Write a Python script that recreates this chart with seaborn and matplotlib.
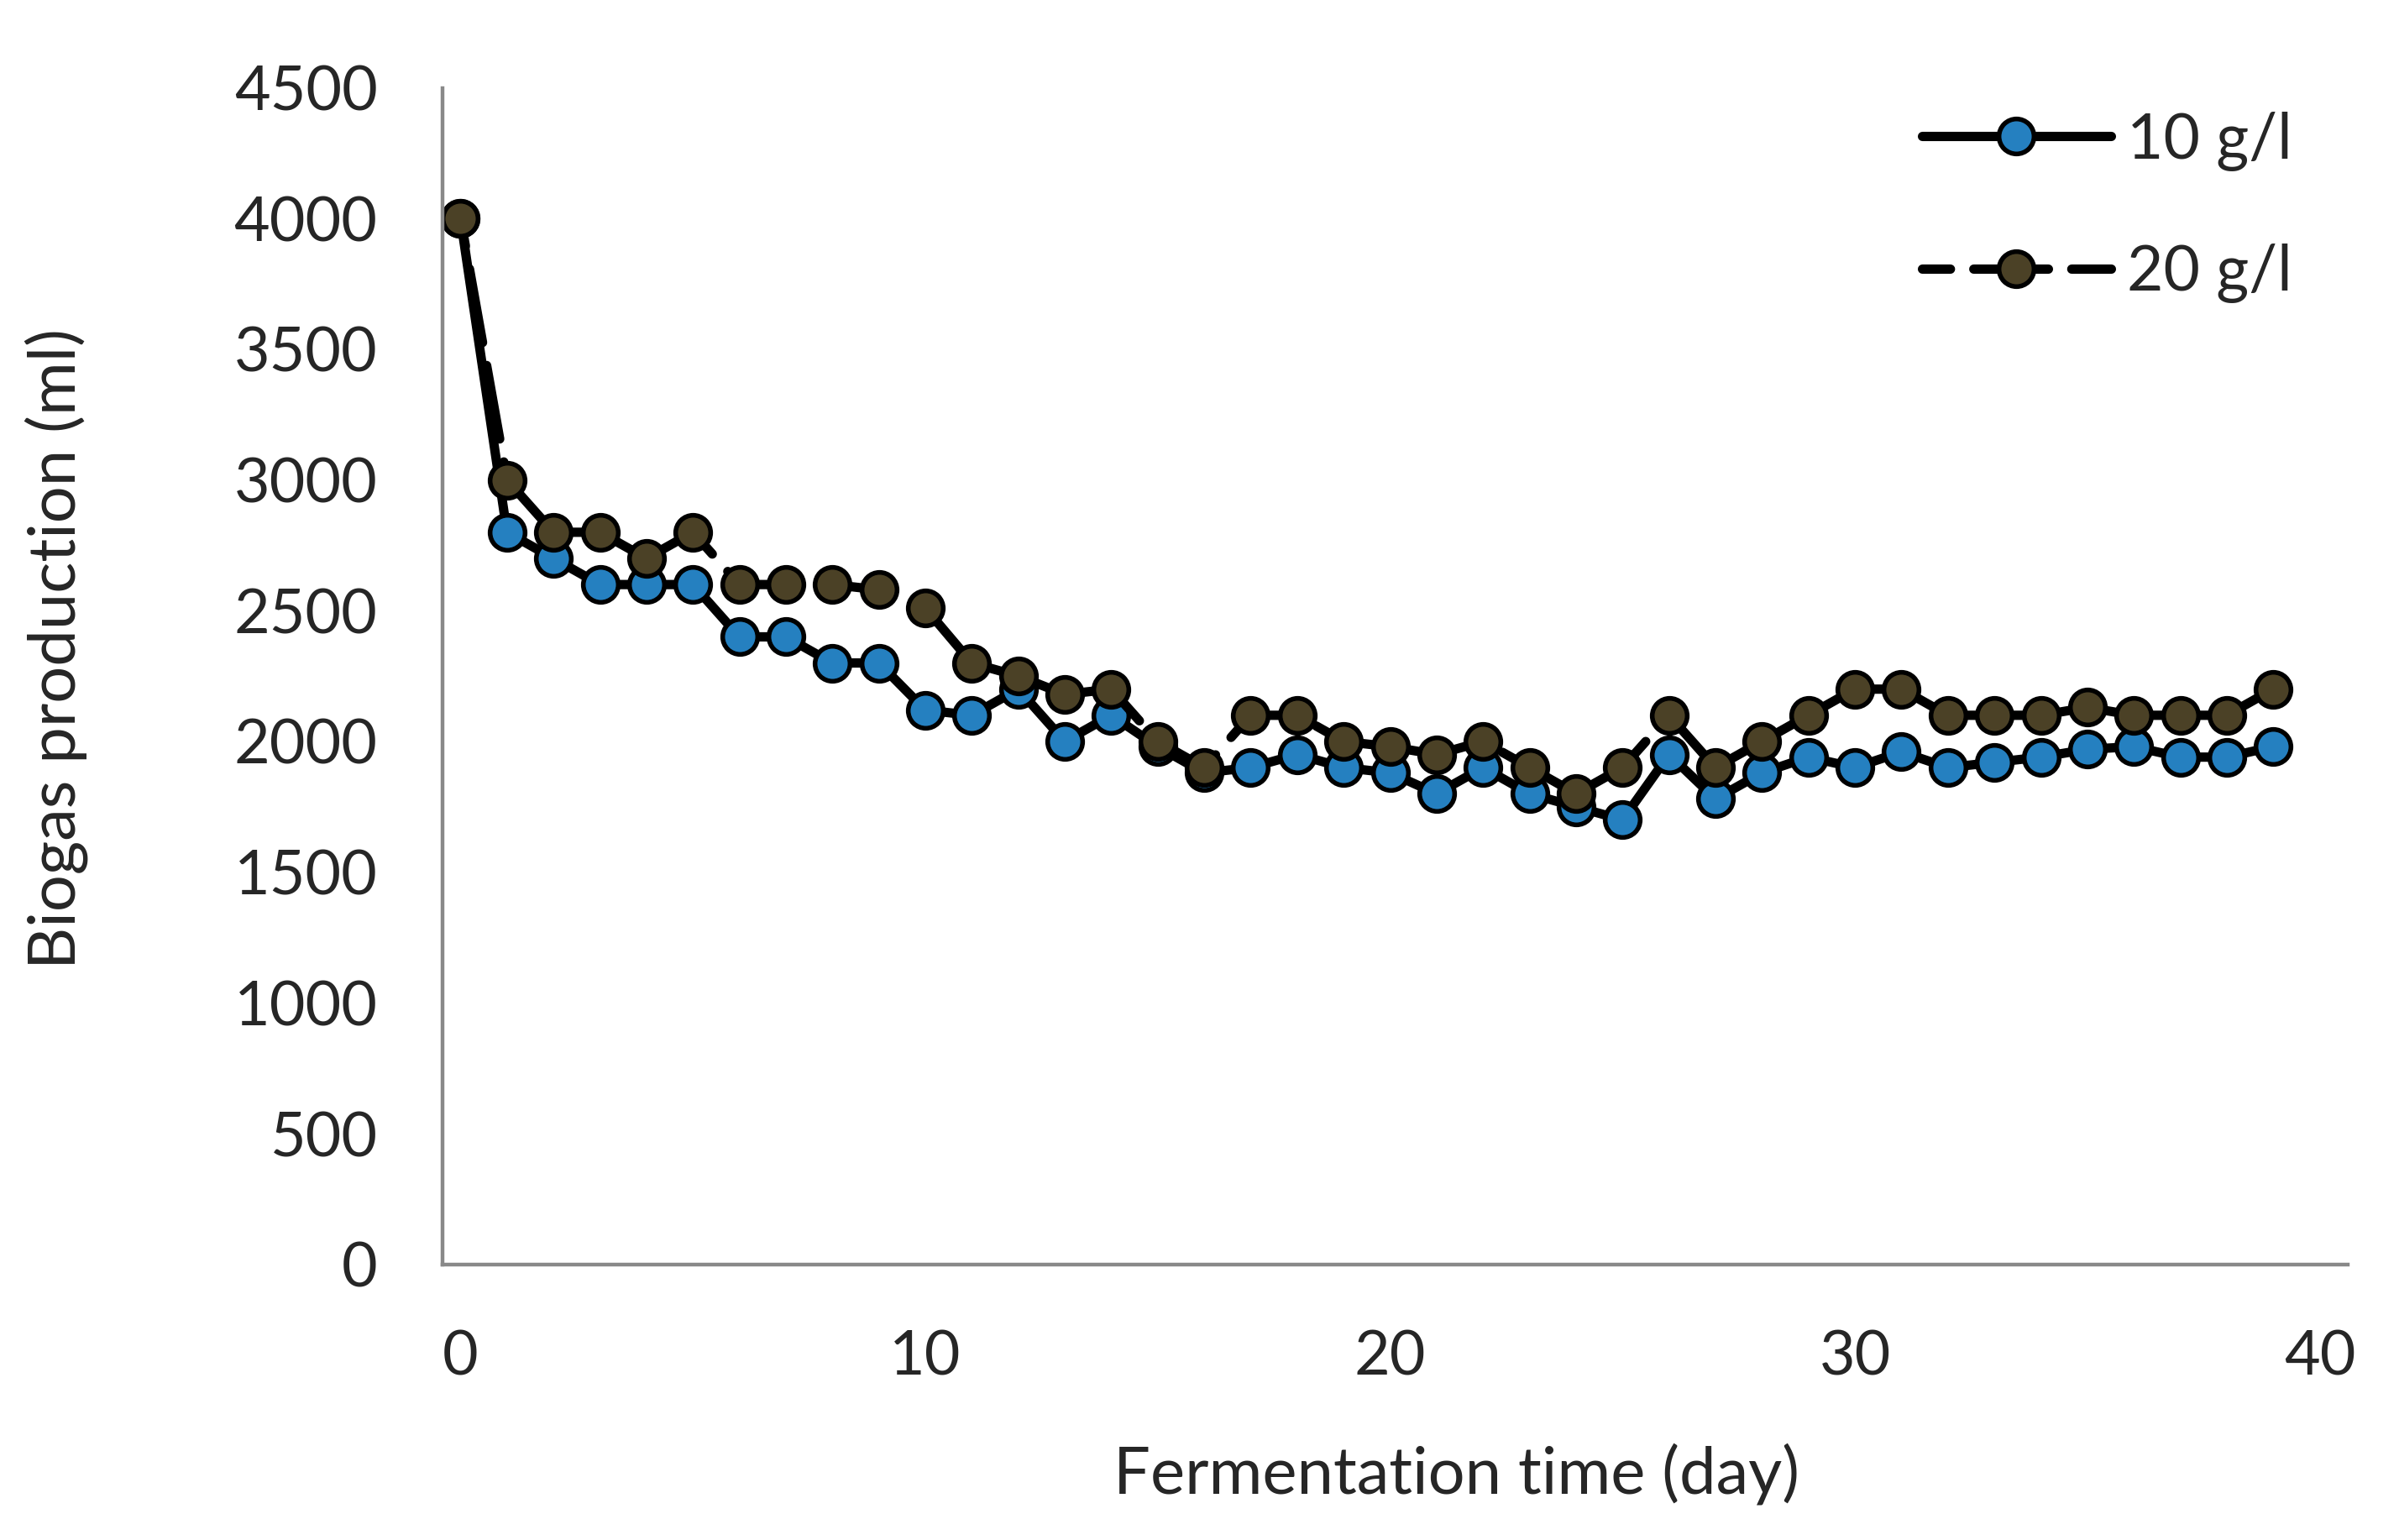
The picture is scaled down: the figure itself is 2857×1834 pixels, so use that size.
import numpy as np
import pandas as pd
import matplotlib
matplotlib.use('Agg')
import matplotlib.pyplot as plt
import seaborn as sns

# ============================================================================
# DATA
# ============================================================================
days = list(range(40))
gas_10 = [4000, 2800, 2700, 2600, 2600, 2600, 2400, 2400, 2300, 2300,
          2120, 2100, 2200, 2000, 2100, 1980, 1880, 1900, 1950, 1900,
          1880, 1800, 1900, 1800, 1750, 1700, 1950, 1780, 1880, 1940,
          1900, 1960, 1900, 1920, 1940, 1970, 1980, 1940, 1940, 1980]
gas_20 = [4000, 3000, 2800, 2800, 2700, 2800, 2600, 2600, 2600, 2580,
          2510, 2300, 2250, 2180, 2200, 2000, 1900, 2100, 2100, 2000,
          1980, 1950, 2000, 1900, 1800, 1900, 2100, 1900, 2000, 2100,
          2200, 2200, 2100, 2100, 2100, 2130, 2100, 2100, 2100, 2200]
series_labels = ['10 g/l', '20 g/l']
x_ticks = [0, 10, 20, 30, 40]
y_ticks = list(range(0, 4501, 500))

df = pd.DataFrame({'day': days, '10 g/l': gas_10, '20 g/l': gas_20})

# ============================================================================
# PLOT
# ============================================================================
sns.set_style('white')
plt.rcParams['font.family'] = ['Lato', 'DejaVu Sans']

fig = plt.figure(figsize=(14.285, 9.17), dpi=200)
ax = fig.add_axes([0.1846, 0.179, 0.794, 0.764])

common = dict(marker='o', markersize=15, markeredgecolor='black',
              markeredgewidth=2.0, color='black', linewidth=4.0)

sns.lineplot(data=df, x='day', y='10 g/l', ax=ax, label=series_labels[0],
             markerfacecolor='#2580C0', solid_capstyle='round', **common)
sns.lineplot(data=df, x='day', y='20 g/l', ax=ax, label=series_labels[1],
             markerfacecolor='#4B4126', linestyle=(5, (8, 2.5)),
             dash_capstyle='round', **common)

ax.set_xlim(-0.38, 40.6)
ax.set_ylim(0, 4500)
ax.set_xticks(x_ticks)
ax.set_yticks(y_ticks)
ax.tick_params(axis='both', length=0, labelsize=26.5, pad=28)

for side in ['top', 'right']:
    ax.spines[side].set_visible(False)
for side in ['left', 'bottom']:
    ax.spines[side].set_color('#898989')
    ax.spines[side].set_linewidth(1.6)

ax.set_xlabel('Fermentation time (day)', fontsize=28)
ax.set_ylabel('Biogas production (ml)', fontsize=28)
ax.xaxis.set_label_coords(0.532, -0.152)
ax.yaxis.set_label_coords(-0.186, 0.523)

ax.legend(loc='upper right', bbox_to_anchor=(0.971, 0.98), frameon=False,
          fontsize=27, handlelength=3.0, handletextpad=0.26,
          labelspacing=1.15, borderpad=0, borderaxespad=0)

fig.savefig('out.png', dpi=200)
